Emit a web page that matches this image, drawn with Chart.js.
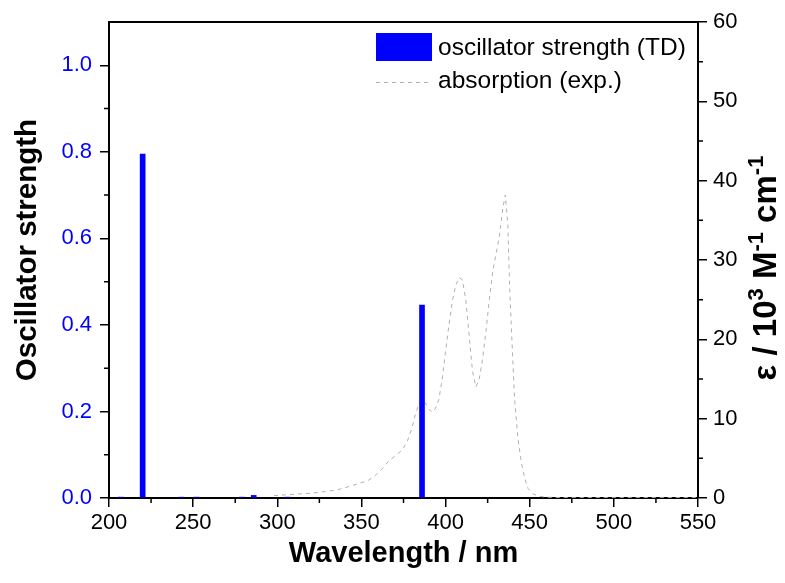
<!DOCTYPE html>
<html>
<head>
<meta charset="utf-8">
<script src="https://cdn.jsdelivr.net/npm/chart.js@4"></script>
<style>
  html, body { margin: 0; padding: 0; background: #fff; }
  #wrap { width: 785px; height: 583px; }
</style>
</head>
<body>
<div id="wrap"><canvas id="c" width="785" height="583"></canvas></div>
<script>
// ---- data ----
const oscX = [207, 220, 243, 252, 279, 286, 306, 386];
const oscY = [0.002, 0.795, 0.002, 0.002, 0.002, 0.006, 0.002, 0.446];

const absX = [298, 305, 312, 320, 328, 335, 342, 348, 354, 358, 362, 366, 370, 374, 377, 380, 382, 384, 386, 388, 390, 392, 394, 396, 398, 400, 402, 404, 406, 408, 410, 412, 414, 416, 418, 420, 422, 424, 426, 428, 430, 432, 434, 435.5, 437, 438, 439.5, 441, 443, 445, 447, 449, 452, 456, 460, 470, 490, 510, 530, 550];
const absY = [0.3, 0.4, 0.5, 0.6, 0.8, 1.0, 1.4, 1.8, 2.2, 2.8, 3.6, 4.6, 5.3, 6.0, 7.0, 8.8, 10.5, 11.8, 12.4, 12.0, 11.2, 10.8, 11.3, 12.4, 15.0, 18.5, 21.8, 24.8, 26.8, 27.8, 27.5, 25.0, 20.5, 16.0, 14.0, 15.0, 17.5, 21.0, 25.0, 28.5, 30.8, 33.0, 36.5, 38.2, 34.5, 27.0, 19.5, 12.5, 7.5, 4.5, 2.5, 1.2, 0.5, 0.2, 0.1, 0.05, 0.05, 0.05, 0.05, 0.05];

const xTicks = [200, 250, 300, 350, 400, 450, 500, 550];
const xMinor = [225, 275, 325, 375, 425, 475, 525];
const leftTicks = [0, 0.2, 0.4, 0.6, 0.8, 1.0];
const leftMinor = [0.1, 0.3, 0.5, 0.7, 0.9];
const rightTicks = [0, 10, 20, 30, 40, 50, 60];
const rightMinor = [5, 15, 25, 35, 45, 55];

const seriesLabels = ['oscillator strength (TD)', 'absorption (exp.)'];
const xTitle = 'Wavelength / nm';
const leftTitle = 'Oscillator strength';
const rightTitleParts = [['ε / 10', false], ['3', true], [' M', false], ['-1', true], [' cm', false], ['-1', true]];

const FONT = "'Liberation Sans', Arial, Helvetica, sans-serif";
Chart.defaults.font.family = FONT;

const extras = {
  id: 'extras',
  afterDraw(chart) {
    const ctx = chart.ctx;
    const a = chart.chartArea;
    const sx = chart.scales.x, sy = chart.scales.y, sy2 = chart.scales.y2;
    ctx.save();
    // top frame
    ctx.strokeStyle = '#000';
    ctx.lineWidth = 2;
    ctx.beginPath();
    ctx.moveTo(a.left - 1, a.top);
    ctx.lineTo(a.right + 1, a.top);
    ctx.stroke();
    // minor ticks
    ctx.lineWidth = 1.5;
    ctx.beginPath();
    xMinor.forEach(v => { const p = sx.getPixelForValue(v); ctx.moveTo(p, a.bottom); ctx.lineTo(p, a.bottom + 5); });
    leftMinor.forEach(v => { const p = sy.getPixelForValue(v); ctx.moveTo(a.left - 5, p); ctx.lineTo(a.left, p); });
    rightMinor.forEach(v => { const p = sy2.getPixelForValue(v); ctx.moveTo(a.right, p); ctx.lineTo(a.right + 5, p); });
    ctx.stroke();

    // legend
    const lx = a.right - 322, ly = a.top + 11;
    ctx.fillStyle = '#0000ff';
    ctx.fillRect(lx, ly, 56, 28);
    ctx.strokeStyle = '#b0b0b0';
    ctx.lineWidth = 1;
    ctx.setLineDash([4, 4]);
    ctx.beginPath();
    ctx.moveTo(lx, ly + 49.5);
    ctx.lineTo(lx + 56, ly + 49.5);
    ctx.stroke();
    ctx.setLineDash([]);
    ctx.fillStyle = '#000';
    ctx.font = '24.5px ' + FONT;
    ctx.textBaseline = 'middle';
    ctx.textAlign = 'left';
    ctx.fillText(chart.data.datasets[0].label, lx + 62, ly + 15);
    ctx.fillText(chart.data.datasets[1].label, lx + 62, ly + 48);

    // left title (reads bottom-to-top)
    ctx.save();
    ctx.translate(28, (a.top + a.bottom) / 2 - 10);
    ctx.rotate(-Math.PI / 2);
    ctx.font = 'bold 29.5px ' + FONT;
    ctx.textAlign = 'center';
    ctx.textBaseline = 'middle';
    ctx.fillText(leftTitle, 0, 0);
    ctx.restore();

    // right title (reads bottom-to-top)
    const big = 'bold 33px ' + FONT, small = 'bold 22px ' + FONT;
    let total = 0;
    rightTitleParts.forEach(([t, sup]) => { ctx.font = sup ? small : big; total += ctx.measureText(t).width; });
    ctx.translate(764, (a.top + a.bottom) / 2 + 8);
    ctx.rotate(-Math.PI / 2);
    let x = -total / 2;
    ctx.textAlign = 'left';
    ctx.textBaseline = 'alphabetic';
    rightTitleParts.forEach(([t, sup]) => {
      ctx.font = sup ? small : big;
      ctx.fillText(t, x, sup ? -1 : 12);
      x += ctx.measureText(t).width;
    });
    ctx.restore();
  }
};

new Chart(document.getElementById('c'), {
  type: 'bar',
  data: {
    datasets: [
      {
        type: 'bar',
        label: seriesLabels[0],
        data: oscX.map((x, i) => ({ x: x, y: oscY[i] })),
        backgroundColor: '#0000ff',
        borderWidth: 0,
        barThickness: 5,
        yAxisID: 'y',
        order: 0
      },
      {
        type: 'line',
        label: seriesLabels[1],
        data: absX.map((x, i) => ({ x: x, y: absY[i] })),
        borderColor: '#b0b0b0',
        borderWidth: 1,
        borderDash: [4, 4],
        pointRadius: 0,
        tension: 0,
        fill: false,
        yAxisID: 'y2',
        order: 1
      }
    ]
  },
  options: {
    responsive: false,
    animation: false,
    events: [],
    layout: { padding: { top: 22, left: 0, right: 0, bottom: 0 } },
    plugins: { legend: { display: false }, tooltip: { enabled: false } },
    scales: {
      x: {
        type: 'linear', min: 200, max: 550, offset: false,
        afterBuildTicks: s => { s.ticks = xTicks.map(v => ({ value: v })); },
        afterFit: s => { s.height = 85; },
        ticks: { color: '#000', font: { size: 22 }, padding: 3, maxRotation: 0, autoSkip: false, callback: v => String(v) },
        grid: { display: true, offset: false, drawOnChartArea: false, drawTicks: true, tickLength: 9, color: '#000', lineWidth: 1.5 },
        border: { display: true, color: '#000', width: 2 },
        title: { display: true, text: xTitle, color: '#000', font: { size: 29, weight: 'bold' }, padding: { top: 0, bottom: 12 } }
      },
      y: {
        type: 'linear', position: 'left', min: 0, max: 1.1,
        afterBuildTicks: s => { s.ticks = leftTicks.map(v => ({ value: v })); },
        afterFit: s => { s.width = 109; },
        ticks: { color: '#0000ff', font: { size: 22 }, padding: 8, callback: v => Number(v).toFixed(1) },
        grid: { display: true, drawOnChartArea: false, drawTicks: true, tickLength: 9, color: '#000', lineWidth: 1.5 },
        border: { display: true, color: '#000', width: 2 },
        title: { display: false }
      },
      y2: {
        type: 'linear', position: 'right', min: 0, max: 60,
        afterBuildTicks: s => { s.ticks = rightTicks.map(v => ({ value: v })); },
        afterFit: s => { s.width = 87; },
        ticks: { color: '#000', font: { size: 22 }, padding: 6, callback: v => String(v) },
        grid: { display: true, drawOnChartArea: false, drawTicks: true, tickLength: 9, color: '#000', lineWidth: 1.5 },
        border: { display: true, color: '#000', width: 2 }
      }
    }
  },
  plugins: [extras]
});
</script>
</body>
</html>
